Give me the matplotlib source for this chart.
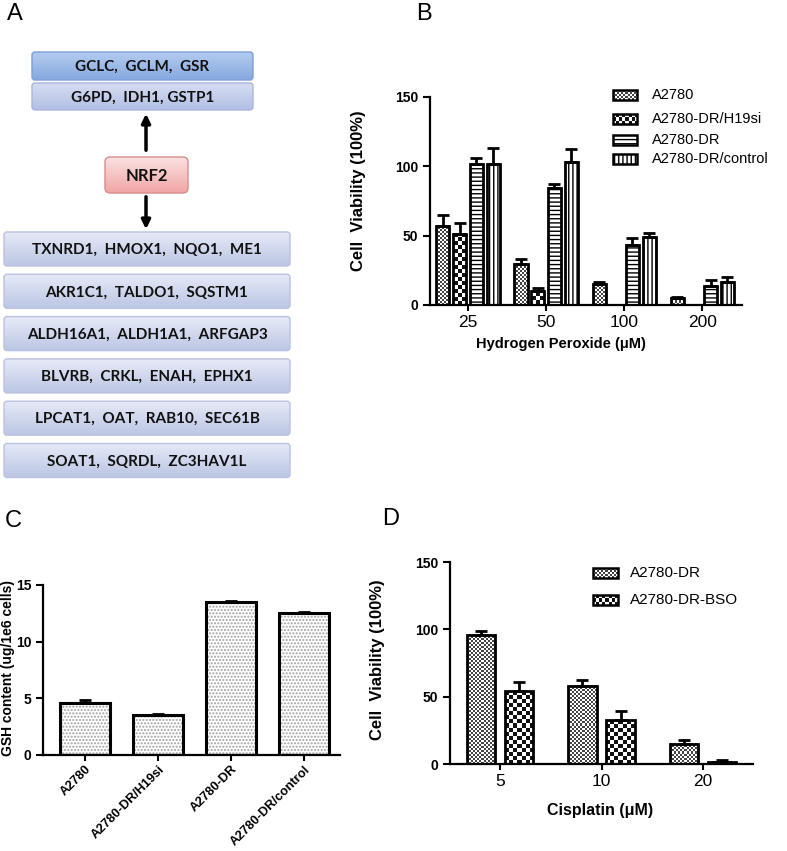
import numpy as np
import matplotlib
matplotlib.use('Agg')
import matplotlib.pyplot as plt
from matplotlib.patches import FancyBboxPatch, Rectangle
from matplotlib.colors import ListedColormap, LinearSegmentedColormap

plt.rcParams['font.family'] = ['Liberation Sans', 'DejaVu Sans']
plt.rcParams['hatch.linewidth'] = 1.0

# ---- data ----
genes_top = ['GCLC,  GCLM,  GSR', 'G6PD,  IDH1, GSTP1']
genes_bottom = ['TXNRD1,  HMOX1,  NQO1,  ME1', 'AKR1C1,  TALDO1,  SQSTM1',
                'ALDH16A1,  ALDH1A1,  ARFGAP3', 'BLVRB,  CRKL,  ENAH,  EPHX1',
                'LPCAT1,  OAT,  RAB10,  SEC61B', 'SOAT1,  SQRDL,  ZC3HAV1L']

h2o2_doses = ['25', '50', '100', '200']
b_labels = ['A2780', 'A2780-DR/H19si', 'A2780-DR', 'A2780-DR/control']
b_a2780 = [57, 29.5, 15.5, 4.8]
b_a2780_err = [8, 4, 1.3, 0.8]
b_h19si = [51.5, 10, 0, 0]
b_h19si_err = [7.5, 2, 0, 0]
b_dr = [101.5, 84.5, 43, 14]
b_dr_err = [4.5, 2.5, 5, 4]
b_ctrl = [102, 103, 49, 16.5]
b_ctrl_err = [11.5, 9.5, 3, 3.5]

c_labels = ['A2780', 'A2780-DR/H19si', 'A2780-DR', 'A2780-DR/control']
gsh = [4.6, 3.5, 13.5, 12.55]
gsh_err = [0.25, 0.08, 0.12, 0.1]

cis_doses = ['5', '10', '20']
d_labels = ['A2780-DR', 'A2780-DR-BSO']
d_dr = [96, 58, 15]
d_dr_err = [3, 4.5, 3]
d_bso = [54, 32.5, 1.5]
d_bso_err = [7, 7, 1.7]

W, H = 787, 851
fig = plt.figure(figsize=(W / 100, H / 100), dpi=100)


def px_axes(l, t, r, b):
    return fig.add_axes([l / W, 1 - b / H, (r - l) / W, (b - t) / H])


def checker(ax, x0, y0, w, h, cell, dark, clip=True):
    (px0, py0), (px1, py1) = ax.transData.transform([(x0, y0), (x0 + w, y0 + h)])
    nx = max(1, int(round(abs(px1 - px0) / cell)))
    ny = max(1, int(round(abs(py1 - py0) / cell)))
    arr = np.indices((ny, nx)).sum(axis=0) % 2
    im = ax.imshow(arr, cmap=ListedColormap(['white', dark]),
                   extent=(x0, x0 + w, y0, y0 + h), origin='lower',
                   interpolation='nearest', aspect='auto', zorder=1.5)
    im.set_clip_on(clip)
    return im


CHECK = {'fine': (2, '#444444'), 'coarse': (4, '#111111')}


def draw_bars(ax, x, vals, errs, width, style):
    hatch = {'hl': '----', 'vl': '||||'}.get(style)
    fc = 'none' if style in CHECK else 'white'
    bars = ax.bar(x, vals, width, facecolor=fc, edgecolor='black', linewidth=2,
                  hatch=hatch, zorder=2)
    ax.errorbar(x, vals, yerr=[np.zeros(len(vals)), errs], fmt='none',
                ecolor='black', elinewidth=2, capsize=4, capthick=2, zorder=3)
    return bars


def fill_checkers(ax, bars, style):
    cell, dark = CHECK[style]
    for b in bars:
        if b.get_height() > 0:
            checker(ax, b.get_x(), b.get_y(), b.get_width(), b.get_height(), cell, dark)


def legend_entry(ax, fx, fy, fw, fh, tx, label, style, fs):
    x0, x1 = ax.get_xlim()
    y0, y1 = ax.get_ylim()
    dx = x0 + fx * (x1 - x0)
    dw = fw * (x1 - x0)
    dy = y0 + (fy - fh / 2) * (y1 - y0)
    dh = fh * (y1 - y0)
    hatch = {'hl': '----', 'vl': '||||'}.get(style)
    fc = 'none' if style in CHECK else 'white'
    r = Rectangle((dx, dy), dw, dh, facecolor=fc, edgecolor='black', lw=1.8,
                  hatch=hatch, clip_on=False, zorder=4)
    ax.add_patch(r)
    if style in CHECK:
        cell, dark = CHECK[style]
        checker(ax, dx, dy, dw, dh, 2 if style == 'fine' else 3, dark, clip=False)
    ax.text(tx, fy, label, transform=ax.transAxes, va='center', ha='left',
            fontsize=fs)


def style_axes(ax):
    for s in ['top', 'right']:
        ax.spines[s].set_visible(False)
    for s in ['left', 'bottom']:
        ax.spines[s].set_linewidth(1.6)
    ax.tick_params(axis='y', direction='out', length=5, width=1.5, labelsize=10)
    ax.tick_params(axis='x', direction='out', length=4, width=1.5)
    for t in ax.get_yticklabels():
        t.set_fontweight('bold')


# ---- Panel A: diagram ----
ax_a = px_axes(0, 0, 330, 500)
ax_a.axis('off')


def gbox(x, y, w, h, c_top, c_bot, edge, text, fs=11, rs=3):
    patch = FancyBboxPatch((x, y), w, h, boxstyle=f'round,pad=0,rounding_size={rs}',
                           fc='none', ec=edge, lw=1.0, zorder=3)
    ax_a.add_patch(patch)
    grad = np.linspace(0, 1, 60)[:, None]
    cmap = LinearSegmentedColormap.from_list('g', [c_top, c_bot])
    im = ax_a.imshow(grad, cmap=cmap, extent=(x, x + w, y + h, y), aspect='auto',
                     origin='upper', zorder=2)
    im.set_clip_path(patch)
    ax_a.text(x + w / 2, y + h / 2 + 1, text, ha='center', va='center', fontsize=fs,
              fontweight='bold', family=['Lato', 'DejaVu Sans'], color='#111111', zorder=4)


gbox(32, 52, 221, 28, '#b4cbf0', '#86a9df', '#7d9fd8', genes_top[0])
gbox(32, 83, 221, 27, '#d6ddf2', '#b2bfe4', '#aab6dc', genes_top[1])
gbox(105, 157, 83, 36, '#fbe1e1', '#f1a5a5', '#d98c8c', 'NRF2', fs=12, rs=5)
for i, txt in enumerate(genes_bottom):
    gbox(4, 232 + i * 42.3, 286, 34, '#e6eaf7', '#bcc6e4', '#b9c2df', txt)

ax_a.annotate('', xy=(146, 111), xytext=(146, 153),
              arrowprops=dict(arrowstyle='-|>', lw=2.5, color='black', mutation_scale=13))
ax_a.annotate('', xy=(146, 232), xytext=(146, 194),
              arrowprops=dict(arrowstyle='-|>', lw=2.5, color='black', mutation_scale=13))
ax_a.set_xlim(0, 330)
ax_a.set_ylim(500, 0)

# ---- Panel B ----
ax_b = px_axes(430, 97, 742, 305)
xb = np.arange(len(h2o2_doses))
bw = 0.167
offs = 0.214
series_b = [(b_a2780, b_a2780_err, 'fine'), (b_h19si, b_h19si_err, 'coarse'),
            (b_dr, b_dr_err, 'hl'), (b_ctrl, b_ctrl_err, 'vl')]
ax_b.set_xlim(-0.487, 3.51)
ax_b.set_ylim(0, 150)
bar_sets = []
for k, (v, e, st) in enumerate(series_b):
    bars = draw_bars(ax_b, xb + (k - 1.5) * offs, v, e, bw, st)
    bar_sets.append((bars, st))
for bars, st in bar_sets:
    if st in CHECK:
        fill_checkers(ax_b, bars, st)
ax_b.set_xlim(-0.487, 3.51)
ax_b.set_ylim(0, 150)
ax_b.set_yticks([0, 50, 100, 150])
ax_b.set_xticks(xb)
ax_b.set_xticklabels(h2o2_doses, fontsize=12.5)
style_axes(ax_b)
ax_b.set_ylabel('Cell  Viability (100%)', fontsize=12, fontweight='bold')
ax_b.yaxis.set_label_coords(-0.205, 0.55)
ax_b.set_xlabel('Hydrogen Peroxide (\u03bcM)', fontsize=10.5, fontweight='bold')
ax_b.xaxis.set_label_coords(0.42, -0.155)
leg_y_b = [1.01, 0.894, 0.793, 0.702]
for k, (lab, (_, _, st)) in enumerate(zip(b_labels, series_b)):
    legend_entry(ax_b, 0.5865, leg_y_b[k], 0.077, 0.048, 0.710, lab, st, 10.5)
ax_b.set_xlim(-0.487, 3.51)
ax_b.set_ylim(0, 150)

# ---- Panel C ----
ax_c = px_axes(43, 585, 340, 755)
xc = np.arange(len(c_labels))
ax_c.bar(xc, gsh, 0.68, facecolor='white', edgecolor='#a0a0a0', linewidth=0,
         hatch='.....', zorder=1.5)
ax_c.bar(xc, gsh, 0.68, facecolor='none', edgecolor='black', linewidth=2.2, zorder=2)
ax_c.errorbar(xc, gsh, yerr=[np.zeros(len(gsh)), gsh_err], fmt='none',
              ecolor='black', elinewidth=2, capsize=4, capthick=2, zorder=3)
ax_c.set_xlim(-0.575, 3.49)
ax_c.set_ylim(0, 15)
ax_c.set_yticks([0, 5, 10, 15])
ax_c.set_xticks(xc)
ax_c.set_xticklabels(c_labels, rotation=45, ha='right', rotation_mode='anchor',
                     fontsize=9.2, fontweight='bold')
ax_c.tick_params(axis='x', pad=3)
style_axes(ax_c)
ax_c.tick_params(axis='x', pad=2)
ax_c.set_ylabel('GSH content (ug/1e6 cells)', fontsize=10, fontweight='bold')
ax_c.yaxis.set_label_coords(-0.095, 0.51)

# ---- Panel D ----
ax_d = px_axes(450, 562, 753, 764)
xd = np.arange(len(cis_doses))
ax_d.set_xlim(-0.49, 2.49)
ax_d.set_ylim(0, 150)
bars_d1 = draw_bars(ax_d, xd - 0.187, d_dr, d_dr_err, 0.276, 'fine')
bars_d2 = draw_bars(ax_d, xd + 0.187, d_bso, d_bso_err, 0.276, 'coarse')
fill_checkers(ax_d, bars_d1, 'fine')
fill_checkers(ax_d, bars_d2, 'coarse')
ax_d.set_xlim(-0.49, 2.49)
ax_d.set_ylim(0, 150)
ax_d.set_yticks([0, 50, 100, 150])
ax_d.set_xticks(xd)
ax_d.set_xticklabels(cis_doses, fontsize=12.5)
style_axes(ax_d)
ax_d.set_ylabel('Cell  Viability (100%)', fontsize=12, fontweight='bold')
ax_d.yaxis.set_label_coords(-0.215, 0.515)
ax_d.set_xlabel('Cisplatin (\u03bcM)', fontsize=11.5, fontweight='bold')
ax_d.xaxis.set_label_coords(0.495, -0.193)
for k, (lab, st) in enumerate(zip(d_labels, ['fine', 'coarse'])):
    legend_entry(ax_d, 0.472, [0.9455, 0.812][k], 0.0825, 0.0495, 0.594, lab, st, 11)
ax_d.set_xlim(-0.49, 2.49)
ax_d.set_ylim(0, 150)

# ---- panel letters ----
for lab, x, y in [('A', 7, 3), ('B', 416, 3), ('C', 5, 510), ('D', 382, 508)]:
    fig.text(x / W, 1 - y / H, lab, fontsize=17, va='top', ha='left')

fig.savefig('out.png', dpi=100)
